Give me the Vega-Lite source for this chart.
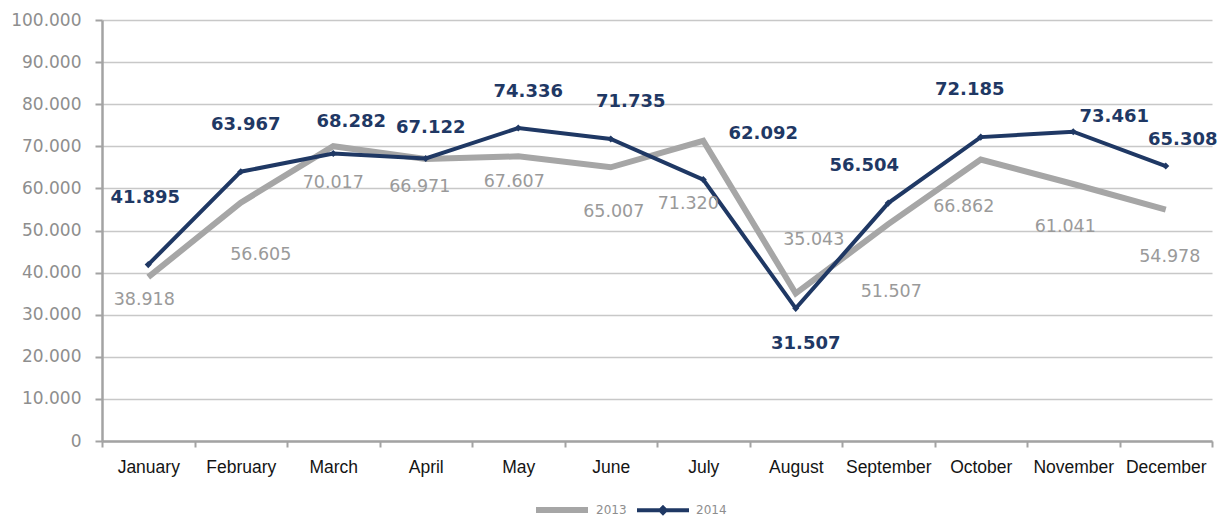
{
  "$schema": "https://vega.github.io/schema/vega-lite/v6.json",
  "width": 1110,
  "height": 421,
  "autosize": {"type": "none"},
  "padding": {"left": 102, "top": 20, "right": 16, "bottom": 77},
  "background": "white",
  "config": {
    "locale": {"number": {"decimal": ",", "thousands": ".", "grouping": [3], "currency": ["", " €"]}},
    "view": {"stroke": null},
    "font": "DejaVu Sans"
  },
  "data": {
    "values": [
      {"month": "January", "year": "2013", "value": 38918},
      {"month": "February", "year": "2013", "value": 56605},
      {"month": "March", "year": "2013", "value": 70017},
      {"month": "April", "year": "2013", "value": 66971},
      {"month": "May", "year": "2013", "value": 67607},
      {"month": "June", "year": "2013", "value": 65007},
      {"month": "July", "year": "2013", "value": 71320},
      {"month": "August", "year": "2013", "value": 35043},
      {"month": "September", "year": "2013", "value": 51507},
      {"month": "October", "year": "2013", "value": 66862},
      {"month": "November", "year": "2013", "value": 61041},
      {"month": "December", "year": "2013", "value": 54978},
      {"month": "January", "year": "2014", "value": 41895},
      {"month": "February", "year": "2014", "value": 63967},
      {"month": "March", "year": "2014", "value": 68282},
      {"month": "April", "year": "2014", "value": 67122},
      {"month": "May", "year": "2014", "value": 74336},
      {"month": "June", "year": "2014", "value": 71735},
      {"month": "July", "year": "2014", "value": 62092},
      {"month": "August", "year": "2014", "value": 31507},
      {"month": "September", "year": "2014", "value": 56504},
      {"month": "October", "year": "2014", "value": 72185},
      {"month": "November", "year": "2014", "value": 73461},
      {"month": "December", "year": "2014", "value": 65308}
    ]
  },
  "encoding": {
    "x": {
      "field": "month",
      "type": "ordinal",
      "sort": ["January", "February", "March", "April", "May", "June", "July", "August", "September", "October", "November", "December"],
      "scale": {"type": "band", "paddingInner": 0, "paddingOuter": 0},
      "axis": {
        "title": null,
        "tickBand": "extent",
        "tickSize": 6,
        "tickWidth": 2,
        "tickColor": "#a3a3a3",
        "domainColor": "#a3a3a3",
        "domainWidth": 2.5,
        "labelFont": "Liberation Sans",
        "labelFontSize": 17.5,
        "labelColor": "#141414",
        "labelAngle": 0,
        "labelBaseline": "middle",
        "labelPadding": 20,
        "grid": false
      }
    },
    "y": {
      "field": "value",
      "type": "quantitative",
      "scale": {"domain": [0, 100000], "nice": false},
      "axis": {
        "title": null,
        "values": [0, 10000, 20000, 30000, 40000, 50000, 60000, 70000, 80000, 90000, 100000],
        "labelExpr": "datum.value === 0 ? '0' : format(datum.value, ',d')",
        "grid": true,
        "gridColor": "#c8c8c8",
        "gridWidth": 1.5,
        "domainColor": "#a3a3a3",
        "domainWidth": 2.5,
        "tickColor": "#a3a3a3",
        "tickSize": 7,
        "tickWidth": 2,
        "labelFont": "DejaVu Sans",
        "labelFontSize": 17,
        "labelColor": "#8e8e8e",
        "labelPadding": 14
      }
    }
  },
  "layer": [
    {
      "mark": {"type": "line"},
      "encoding": {
        "color": {
          "field": "year",
          "type": "nominal",
          "scale": {"domain": ["2013", "2014"], "range": ["#a6a6a6", "#1f3864"]},
          "legend": {
            "title": null,
            "orient": "none",
            "direction": "horizontal",
            "legendX": 431,
            "legendY": 461,
            "padding": 0,
            "symbolType": "stroke",
            "symbolSize": 2704,
            "symbolStrokeWidth": 4,
            "labelFont": "DejaVu Sans",
            "labelFontSize": 12,
            "labelColor": "#8e8e8e",
            "labelOffset": 5,
            "columnPadding": 2,
            "encode": {
              "symbols": {
                "update": {
                  "shape": {"signal": "datum.value === '2014' ? 'M-1,0H1M0,-0.1L0.1,0L0,0.1L-0.1,0Z' : 'stroke'"},
                  "strokeWidth": {"signal": "datum.value === '2014' ? 3.5 : 4.5"}
                }
              }
            }
          }
        },
        "strokeWidth": {
          "field": "year",
          "type": "nominal",
          "scale": {"domain": ["2013", "2014"], "range": [6, 4]},
          "legend": null
        }
      }
    },
    {
      "transform": [{"filter": "datum.year === '2014'"}],
      "mark": {"type": "point", "shape": "diamond", "filled": true, "size": 50, "color": "#1f3864", "opacity": 1}
    },
    {
      "transform": [{"filter": "datum.year === '2013'"}],
      "mark": {
        "type": "text",
        "font": "DejaVu Sans",
        "fontSize": 17.5,
        "color": "#9a9a9a",
        "align": "center",
        "baseline": "middle",
        "dx": {"expr": "[-4, 20, 0, -6, -4, 3, -15, 18, 3, -17, -8, 4][indexof(['January','February','March','April','May','June','July','August','September','October','November','December'], datum.month)]"},
        "dy": {"expr": "[23, 52, 37, 28, 26, 45, 63, -53, 68, 47, 43, 47][indexof(['January','February','March','April','May','June','July','August','September','October','November','December'], datum.month)]"}
      },
      "encoding": {"text": {"field": "value", "type": "quantitative", "format": ","}}
    },
    {
      "transform": [{"filter": "datum.year === '2014'"}],
      "mark": {
        "type": "text",
        "font": "DejaVu Sans",
        "fontSize": 18,
        "fontWeight": "bold",
        "color": "#1f3864",
        "align": "center",
        "baseline": "middle",
        "dx": {"expr": "[-3, 5, 18, 5, 10, 20, 60, 10, -24, -11, 41, 17][indexof(['January','February','March','April','May','June','July','August','September','October','November','December'], datum.month)]"},
        "dy": {"expr": "[-67, -47, -32, -30, -36, -37, -46, 36, -37, -47, -15, -26][indexof(['January','February','March','April','May','June','July','August','September','October','November','December'], datum.month)]"}
      },
      "encoding": {"text": {"field": "value", "type": "quantitative", "format": ","}}
    }
  ]
}
